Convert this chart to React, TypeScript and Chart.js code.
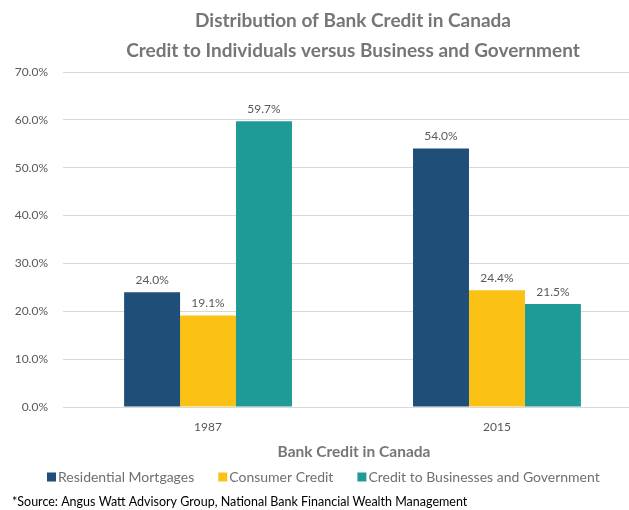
import React, { useEffect, useRef } from 'react';
import { Chart, registerables } from 'chart.js';

Chart.register(...registerables);

const categories = ['1987', '2015'];
const seriesNames = ['Residential Mortgages', 'Consumer Credit', 'Credit to Businesses and Government'];
const residentialMortgages = [24.0, 54.0];
const consumerCredit = [19.1, 24.4];
const businessGovernment = [59.7, 21.5];
const seriesColors = ['#1F4E79', '#FBC115', '#1E9A97'];
const yMin = 0;
const yMax = 70;
const yStep = 10;
const titleLines = ['Distribution of Bank Credit in Canada', 'Credit to Individuals versus Business and Government'];
const xAxisTitle = 'Bank Credit in Canada';
const sourceText = '*Source: Angus Watt Advisory Group, National Bank Financial Wealth Management';

const FONT = 'Lato, "Open Sans", sans-serif';
const GREY = '#595959';
const TITLE_GREY = '#767676';
const LEGEND_GREY = '#6F6F6F';

const valueLabelsPlugin = {
  id: 'valueLabels',
  afterDatasetsDraw(chart: any) {
    const ctx = chart.ctx;
    ctx.save();
    ctx.fillStyle = GREY;
    ctx.font = `12px ${FONT}`;
    ctx.textAlign = 'center';
    ctx.textBaseline = 'bottom';
    chart.data.datasets.forEach((ds: any, i: number) => {
      const meta = chart.getDatasetMeta(i);
      meta.data.forEach((el: any, j: number) => {
        const v = ds.data[j].y;
        ctx.fillText(v.toFixed(1) + '%', el.x, el.y - 6);
      });
    });
    ctx.restore();
  },
};

const textPlugin = {
  id: 'chartTexts',
  afterDraw(chart: any) {
    const ctx = chart.ctx;
    ctx.save();
    ctx.textBaseline = 'middle';
    // Titles (centred on the plot area of the original, wider chart)
    ctx.fillStyle = TITLE_GREY;
    ctx.font = `bold 19px ${FONT}`;
    ctx.textAlign = 'center';
    ctx.fillText(titleLines[0], 353, 21);
    ctx.fillText(titleLines[1], 353, 51);
    // X axis title
    ctx.font = `bold 15.5px ${FONT}`;
    ctx.fillText(xAxisTitle, 354, 452);
    // Legend
    ctx.font = `14px ${FONT}`;
    ctx.textAlign = 'left';
    let x = 47;
    const y = 477;
    chart.data.datasets.forEach((ds: any) => {
      ctx.fillStyle = ds.backgroundColor;
      ctx.fillRect(x, y - 4.5, 9, 9);
      ctx.fillStyle = LEGEND_GREY;
      ctx.fillText(ds.label, x + 11, y);
      x += 11 + ctx.measureText(ds.label).width + 24;
    });
    // Source
    ctx.fillStyle = '#000000';
    ctx.font = `12.5px ${FONT}`;
    ctx.fillText(sourceText, 12, 502);
    ctx.restore();
  },
};

export default function App() {
  const ref = useRef<HTMLCanvasElement | null>(null);
  useEffect(() => {
    const canvas = ref.current;
    if (!canvas) return;
    const seriesValues = [residentialMortgages, consumerCredit, businessGovernment];
    const chart = new Chart(canvas, {
      type: 'bar',
      data: {
        datasets: seriesNames.map((name, i) => ({
          label: name,
          data: seriesValues[i].map((v, j) => ({ x: j, y: v })),
          backgroundColor: seriesColors[i],
          borderWidth: 0,
          barPercentage: 1,
          categoryPercentage: 0.581,
        })),
      },
      options: {
        responsive: false,
        animation: false,
        devicePixelRatio: 1,
        layout: { padding: { top: 72, right: 0, bottom: 0, left: 0 } },
        plugins: {
          legend: { display: false },
          title: { display: false },
          tooltip: { enabled: false },
        },
        scales: {
          x: {
            type: 'linear',
            min: -0.502,
            max: 1.457,
            offset: false,
            grid: { display: false, drawTicks: false },
            border: { display: false },
            ticks: {
              color: GREY,
              font: { family: FONT, size: 12 },
              padding: 13,
              callback: (v: any) => categories[v] ?? '',
            },
            afterBuildTicks: (s: any) => {
              s.ticks = categories.map((_, i) => ({ value: i }));
            },
            afterFit: (s: any) => {
              s.height = 103;
            },
          },
          y: {
            min: yMin,
            max: yMax,
            grid: { color: '#D9D9D9', drawTicks: false, lineWidth: 1 },
            border: { display: false },
            ticks: {
              stepSize: yStep,
              color: GREY,
              font: { family: FONT, size: 12 },
              padding: 15,
              callback: (v: any) => Number(v).toFixed(1) + '%',
            },
            afterFit: (s: any) => {
              s.width = 63;
            },
          },
        },
      },
      plugins: [valueLabelsPlugin, textPlugin],
    });
    return () => chart.destroy();
  }, []);
  return (
    <div style={{ position: 'absolute', left: 0, top: 0, width: 629, height: 510, background: '#fff' }}>
      <canvas ref={ref} width={629} height={510} />
    </div>
  );
}
